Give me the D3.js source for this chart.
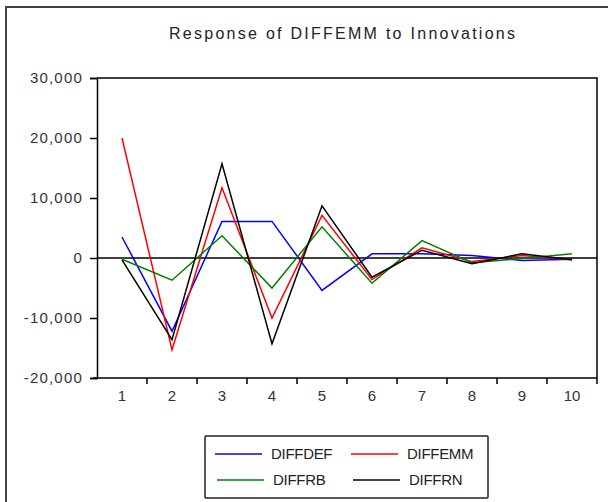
<!DOCTYPE html>
<html><head><meta charset="utf-8">
<script src="https://cdn.jsdelivr.net/npm/d3@7"></script>
<style>body{margin:0;background:#fff;}svg{display:block;font-family:"Liberation Sans",Arial,sans-serif;}</style>
</head><body>
<svg id="c" width="608" height="502"></svg>
<script>
const periods = [1,2,3,4,5,6,7,8,9,10];
const seriesNames = ["DIFFDEF","DIFFEMM","DIFFRB","DIFFRN"];
const seriesColors = ["#0000ff","#ff0000","#008000","#000000"];
const diffdef = [3500,-12200,6100,6100,-5400,700,700,400,-400,-200];
const diffemm = [20000,-15300,11700,-10000,7100,-3600,1700,-600,400,-300];
const diffrb  = [-200,-3700,3700,-5000,5200,-4200,2900,-800,-100,700];
const diffrn  = [-300,-13600,15700,-14300,8700,-3200,1300,-950,700,-300];
const yTicks = [-20000,-10000,0,10000,20000,30000];
const title = "Response of DIFFEMM to Innovations";

const svg = d3.select("#c");
const L=97,R=597,T=78,B=378;
const x = d3.scaleBand().domain(periods).range([L,R]);
const y = d3.scaleLinear().domain([-20000,30000]).range([B,T]);

// outer frame
svg.append("path").attr("d",`M6,502V7H608`).attr("fill","none").attr("stroke","#444").attr("stroke-width",2);

// title
svg.append("text").attr("x",(L+R)/2-5).attr("y",39).attr("text-anchor","middle")
  .attr("font-size",16).attr("fill","#222").attr("textLength",346).attr("lengthAdjust","spacing").text(title);

const fmt = d => d3.format(",")(d).replace("\u2212","-");
// y axis
const ya = svg.append("g").attr("transform",`translate(${L},0)`)
  .call(d3.axisLeft(y).tickValues(yTicks).tickSize(7).tickPadding(7).tickFormat(fmt));
ya.select(".domain").attr("stroke","#000").attr("stroke-width",1.5);
ya.selectAll(".tick line").attr("stroke","#000").attr("stroke-width",1.5);
ya.selectAll("text").attr("font-size",15).attr("letter-spacing",1.2).attr("fill","#333").attr("font-family","Liberation Sans, Arial, sans-serif");

// x axis
const xa = svg.append("g").attr("transform",`translate(0,${B})`)
  .call(d3.axisBottom(x).tickSize(0).tickPadding(12));
xa.select(".domain").remove();
xa.selectAll("text").attr("font-size",15).attr("fill","#333").attr("font-family","Liberation Sans, Arial, sans-serif");
const edges = periods.map(p=>x(p)+x.bandwidth());
svg.append("line").attr("x1",L-4).attr("x2",R).attr("y1",B).attr("y2",B).attr("stroke","#000").attr("stroke-width",1.5);
svg.selectAll(".xt").data(edges).join("line").attr("x1",d=>d).attr("x2",d=>d).attr("y1",B).attr("y2",B+6).attr("stroke","#000").attr("stroke-width",1.5);

// top & right frame
svg.append("path").attr("d",`M${L},${T}H${R}V${B}`).attr("fill","none").attr("stroke","#000").attr("stroke-width",1.5);
// zero line
svg.append("line").attr("x1",L).attr("x2",R).attr("y1",y(0)).attr("y2",y(0)).attr("stroke","#000").attr("stroke-width",1.5);

const data = [diffdef,diffemm,diffrb,diffrn];
const line = d3.line().x((d,i)=>x(periods[i])+x.bandwidth()/2).y(d=>y(d));
data.forEach((s,k)=>{
  svg.append("path").attr("d",line(s)).attr("fill","none").attr("stroke",seriesColors[k]).attr("stroke-width",1.5);
});

// legend
svg.append("rect").attr("x",205).attr("y",436).attr("width",283).attr("height",62).attr("fill","#fff").attr("stroke","#222").attr("stroke-width",1.5).attr("rx",1);
const lpos = [[215,454],[351,454],[217,480],[353,480]];
seriesNames.forEach((n,k)=>{
  const [lx,ly]=lpos[k];
  svg.append("line").attr("x1",lx).attr("x2",lx+47).attr("y1",ly).attr("y2",ly).attr("stroke",seriesColors[k]).attr("stroke-width",1.5);
  svg.append("text").attr("x",lx+56).attr("y",ly+5).attr("font-size",15).attr("fill","#222").attr("letter-spacing",-0.3).text(n);
});
</script>
</body></html>
